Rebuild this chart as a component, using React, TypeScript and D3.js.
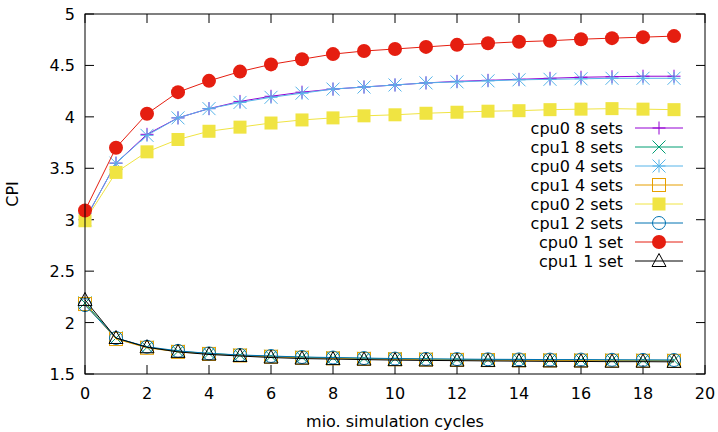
import React from "react";
import * as d3 from "d3";

const cycles = d3.range(0, 20);

const cpu0_8sets = [3.0, 3.55, 3.83, 3.99, 4.08, 4.15, 4.20, 4.24, 4.27, 4.29, 4.31, 4.33, 4.345, 4.355, 4.365, 4.375, 4.385, 4.39, 4.395, 4.395];
const cpu1_8sets = [2.19, 1.85, 1.76, 1.72, 1.70, 1.683, 1.672, 1.663, 1.657, 1.652, 1.648, 1.645, 1.642, 1.64, 1.638, 1.637, 1.636, 1.635, 1.634, 1.633];
const cpu0_4sets = [3.0, 3.55, 3.82, 3.99, 4.08, 4.14, 4.19, 4.23, 4.27, 4.29, 4.31, 4.33, 4.34, 4.35, 4.36, 4.365, 4.37, 4.375, 4.375, 4.375];
const cpu1_4sets = [2.18, 1.84, 1.755, 1.715, 1.695, 1.68, 1.668, 1.658, 1.652, 1.647, 1.643, 1.64, 1.637, 1.635, 1.633, 1.632, 1.631, 1.63, 1.629, 1.628];
const cpu0_2sets = [2.99, 3.46, 3.66, 3.78, 3.86, 3.90, 3.94, 3.97, 3.99, 4.01, 4.02, 4.035, 4.045, 4.055, 4.06, 4.07, 4.075, 4.08, 4.075, 4.07];
const cpu1_2sets = [2.17, 1.85, 1.765, 1.725, 1.70, 1.685, 1.675, 1.665, 1.66, 1.655, 1.65, 1.647, 1.645, 1.643, 1.642, 1.64, 1.64, 1.638, 1.637, 1.636];
const cpu0_1set = [3.09, 3.70, 4.03, 4.24, 4.35, 4.44, 4.51, 4.56, 4.61, 4.64, 4.66, 4.68, 4.70, 4.715, 4.73, 4.74, 4.755, 4.765, 4.775, 4.785];
const cpu1_1set = [2.22, 1.85, 1.76, 1.715, 1.69, 1.675, 1.66, 1.65, 1.645, 1.64, 1.635, 1.632, 1.63, 1.627, 1.625, 1.623, 1.622, 1.62, 1.62, 1.618];

const xTicks = [0, 2, 4, 6, 8, 10, 12, 14, 16, 18, 20];
const yTicks = [1.5, 2, 2.5, 3, 3.5, 4, 4.5, 5];

const seriesNames = ["cpu0 8 sets", "cpu1 8 sets", "cpu0 4 sets", "cpu1 4 sets", "cpu0 2 sets", "cpu1 2 sets", "cpu0 1 set", "cpu1 1 set"];
const seriesValues = [cpu0_8sets, cpu1_8sets, cpu0_4sets, cpu1_4sets, cpu0_2sets, cpu1_2sets, cpu0_1set, cpu1_1set];
const seriesColors = ["#9400d3", "#009e73", "#56b4e9", "#e69f00", "#f0e442", "#0072b2", "#e51e10", "#000000"];
const seriesMarkers = ["plus", "cross", "star", "square", "fsquare", "circle", "fcircle", "triangle"];

const FONT = "DejaVu Sans, sans-serif";

function Marker({ type, x, y, color }: { type: string; x: number; y: number; color: string }) {
  const s = 6.5;
  switch (type) {
    case "plus":
      return <path d={`M${x - s},${y}H${x + s}M${x},${y - s}V${y + s}`} stroke={color} strokeWidth={1} fill="none" />;
    case "cross":
      return <path d={`M${x - s},${y - s}L${x + s},${y + s}M${x - s},${y + s}L${x + s},${y - s}`} stroke={color} strokeWidth={1} fill="none" />;
    case "star":
      return (
        <path
          d={`M${x - s},${y}H${x + s}M${x},${y - s}V${y + s}M${x - s},${y - s}L${x + s},${y + s}M${x - s},${y + s}L${x + s},${y - s}`}
          stroke={color}
          strokeWidth={1}
          fill="none"
        />
      );
    case "square":
      return <rect x={x - s} y={y - s} width={2 * s} height={2 * s} stroke={color} strokeWidth={1} fill="none" />;
    case "fsquare":
      return <rect x={x - s} y={y - s} width={2 * s} height={2 * s} fill={color} />;
    case "circle":
      return <circle cx={x} cy={y} r={s} stroke={color} strokeWidth={1} fill="none" />;
    case "fcircle":
      return <circle cx={x} cy={y} r={s + 0.5} fill={color} />;
    case "triangle":
      return <path d={`M${x},${y - s - 1}L${x + s + 0.5},${y + s - 1}L${x - s - 0.5},${y + s - 1}Z`} stroke={color} strokeWidth={1} fill="none" />;
  }
  return null;
}

export default function App() {
  const W = 718;
  const H = 432;
  const left = 85;
  const right = 705;
  const top = 14;
  const bottom = 374;
  const x = d3.scaleLinear().domain([0, 20]).range([left, right]);
  const y = d3.scaleLinear().domain([1.5, 5]).range([bottom, top]);
  const line = d3
    .line<number>()
    .x((_, i) => x(cycles[i]))
    .y((d) => y(d));

  const tickLen = 9;
  const legendTextX = 623;
  const legendLineX1 = 635;
  const legendLineX2 = 683;
  const legendY0 = 128;
  const legendDy = 19;

  return (
    <svg width={W} height={H} style={{ position: "absolute", left: 0, top: 0, background: "#fff" }} fontFamily={FONT} fontSize={16}>
      <rect x={0} y={0} width={W} height={H} fill="#fff" />
      {/* ticks */}
      {xTicks.map((t) => (
        <g key={"xt" + t}>
          <line x1={x(t)} x2={x(t)} y1={bottom} y2={bottom - tickLen} stroke="#000" />
          <line x1={x(t)} x2={x(t)} y1={top} y2={top + tickLen} stroke="#000" />
          <text x={x(t)} y={399} textAnchor="middle" fill="#000">
            {t}
          </text>
        </g>
      ))}
      {yTicks.map((t) => (
        <g key={"yt" + t}>
          <line x1={left} x2={left + tickLen} y1={y(t)} y2={y(t)} stroke="#000" />
          <line x1={right} x2={right - tickLen} y1={y(t)} y2={y(t)} stroke="#000" />
          <text x={left - 10} y={y(t) + 6} textAnchor="end" fill="#000">
            {t}
          </text>
        </g>
      ))}
      <text x={395} y={427} textAnchor="middle" fill="#000">
        mio. simulation cycles
      </text>
      <text transform={`translate(18,194) rotate(-90)`} textAnchor="middle" fill="#000">
        CPI
      </text>
      {/* legend + series */}
      {seriesValues.map((vals, si) => {
        const ly = legendY0 + si * legendDy;
        const c = seriesColors[si];
        return (
          <g key={seriesNames[si]}>
            <text x={legendTextX} y={ly + 6} textAnchor="end" fill="#000">
              {seriesNames[si]}
            </text>
            <line x1={legendLineX1} x2={legendLineX2} y1={ly} y2={ly} stroke={c} strokeWidth={1} />
            <Marker type={seriesMarkers[si]} x={(legendLineX1 + legendLineX2) / 2} y={ly} color={c} />
            <path d={line(vals) || ""} fill="none" stroke={c} strokeWidth={1} />
            {vals.map((v, i) => (
              <Marker key={i} type={seriesMarkers[si]} x={x(cycles[i])} y={y(v)} color={c} />
            ))}
          </g>
        );
      })}
      {/* border */}
      <rect x={left} y={top} width={right - left} height={bottom - top} fill="none" stroke="#000" strokeWidth={1} />
    </svg>
  );
}
